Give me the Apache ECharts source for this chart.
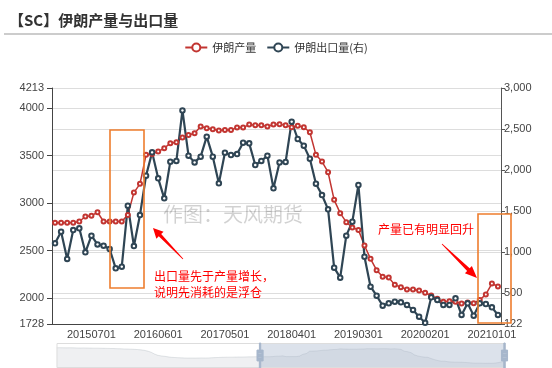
<!DOCTYPE html>
<html><head><meta charset="utf-8">
<script src="https://cdn.jsdelivr.net/npm/echarts@6/dist/echarts.min.js"></script>
<style>html,body{margin:0;padding:0;background:#fff}#c{width:552px;height:368px}</style>
</head><body><div id="c"></div>
<script>
// ---- data ----
const months = [
 '20100101','20100201','20100301','20100401','20100501','20100601','20100701','20100801','20100901','20101001','20101101','20101201',
 '20110101','20110201','20110301','20110401','20110501','20110601','20110701','20110801','20110901','20111001','20111101','20111201',
 '20120101','20120201','20120301','20120401','20120501','20120601','20120701','20120801','20120901','20121001','20121101','20121201',
 '20130101','20130201','20130301','20130401','20130501','20130601','20130701','20130801','20130901','20131001','20131101','20131201',
 '20140101','20140201','20140301','20140401','20140501','20140601','20140701','20140801','20140901','20141001','20141101','20141201',
 '20150101','20150201','20150301','20150401','20150501','20150601','20150701','20150801','20150901','20151001','20151101','20151201',
 '20160101','20160201','20160301','20160401','20160501','20160601','20160701','20160801','20160901','20161001','20161101','20161201',
 '20170101','20170201','20170301','20170401','20170501','20170601','20170701','20170801','20170901','20171001','20171101','20171201',
 '20180101','20180201','20180301','20180401','20180501','20180601','20180701','20180801','20180901','20181001','20181101','20181201',
 '20190101','20190201','20190301','20190401','20190501','20190601','20190701','20190801','20190901','20191001','20191101','20191201',
 '20200101','20200201','20200301','20200401','20200501','20200601','20200701','20200801','20200901','20201001','20201101','20201201',
 '20210101','20210201'
];
// 伊朗产量 (left axis)
const production = [
 3950,3960,3950,3940,3950,3940,3930,3920,3930,3920,3910,3900,
 3900,3890,3880,3870,3860,3850,3830,3820,3800,3790,3770,3750,
 3720,3680,3620,3520,3380,3150,2980,2900,2850,2780,2720,2690,
 2670,2650,2630,2620,2630,2620,2630,2640,2630,2640,2660,2680,
 2700,2720,2730,2740,2740,2750,2760,2760,2770,2780,2780,2790,
 2795,2795,2795,2795,2807,2860,2867,2905,2807,2807,2807,2807,
 2877,3112,3204,3509,3519,3544,3579,3632,3642,3691,3719,3737,
 3807,3789,3779,3765,3772,3772,3796,3796,3828,3822,3822,3807,
 3828,3830,3822,3800,3815,3800,3747,3509,3439,3326,3035,2895,
 2800,2744,2719,2554,2414,2295,2225,2218,2140,2116,2091,2091,
 2081,2056,2028,1993,1961,1968,1961,1944,1954,1947,1982,2039,
 2154,2123
];
// 伊朗出口量 (right axis)
const exportsVol = [
 null,null,null,null,null,null,null,null,null,null,null,null,
 null,null,null,null,null,null,null,null,null,null,null,null,
 null,null,null,null,null,null,null,null,null,null,null,null,
 null,null,null,null,null,null,null,null,null,null,null,null,
 null,null,null,null,null,null,null,null,null,null,null,null,
 1106,1248,915,1268,1289,996,1199,1093,1077,1037,801,821,
 1565,1073,1451,1931,2215,1898,1654,2102,2110,2727,2175,2093,
 2163,2407,2163,1837,2211,2183,2195,2333,2325,2061,2110,2175,
 1776,2093,2098,2589,2378,2297,2138,1833,1695,1520,809,687,
 1199,1370,1817,943,577,467,346,374,394,386,354,293,
 211,136,447,415,354,354,435,232,374,224,374,366,
 325,232
];
const seriesNames = ['伊朗产量','伊朗出口量(右)'];
const leftAxisRange = [1728, 4213];
const rightAxisRange = [122, 3000];
const windowStart = '20150101';
const windowEnd = '20210201';
const labelIdx = [66,77,88,99,110,121,132];
const tickIdx = [61,72,83,94,105,116,127];

// ---- helpers for annotation shapes ----
function arrowPoints(x1,y1,x2,y2,headLen,headHalf,bodyHalf){
  const dx=x2-x1, dy=y2-y1, L=Math.hypot(dx,dy), ux=dx/L, uy=dy/L, nx=-uy, ny=ux;
  const bx=x2-ux*headLen, by=y2-uy*headLen;
  return [[x1+nx*0.4,y1+ny*0.4],[bx+nx*bodyHalf,by+ny*bodyHalf],[bx+nx*headHalf,by+ny*headHalf],[x2,y2],
          [bx-nx*headHalf,by-ny*headHalf],[bx-nx*bodyHalf,by-ny*bodyHalf],[x1-nx*0.4,y1-ny*0.4]];
}
const FONT = '"Liberation Sans", "Noto Sans CJK SC", sans-serif';
const CJK = '"Noto Sans CJK SC", sans-serif';
const RED = '#c23531', DARK = '#2f4554', ANN = '#ff0000', ORANGE = '#ee7d2e';

const chart = echarts.init(document.getElementById('c'));
chart.setOption({
  animation: false,
  backgroundColor: '#fff',
  title: {
    text: '【SC】伊朗产量与出口量', left: 4, top: 8,
    textStyle: { fontSize: 15, fontWeight: 'bold', color: '#333', fontFamily: CJK }
  },
  legend: {
    top: 37, left: 'center', itemWidth: 22, itemHeight: 10, itemGap: 10,
    textStyle: { fontSize: 11, color: '#333', fontFamily: CJK },
    data: seriesNames
  },
  grid: { left: 52, right: 51, top: 88, bottom: 44 },
  xAxis: {
    type: 'category', data: months, boundaryGap: true,
    axisLine: { lineStyle: { color: '#444' } },
    axisTick: { length: 4, interval: (i) => tickIdx.indexOf(i) >= 0, lineStyle: { color: '#444' } },
    axisLabel: { interval: (i) => labelIdx.indexOf(i) >= 0, margin: 5, fontSize: 11, color: '#444', fontFamily: FONT }
  },
  yAxis: [
    { type: 'value', min: leftAxisRange[0], max: leftAxisRange[1], position: 'left',
      axisLine: { show: true, lineStyle: { color: '#444' } },
      axisTick: { show: true, length: 5 },
      axisLabel: { fontSize: 11, color: '#444', fontFamily: FONT, formatter: v => String(v) },
      splitLine: { lineStyle: { color: '#ddd', width: 1.2 } } },
    { type: 'value', min: rightAxisRange[0], max: rightAxisRange[1], position: 'right',
      axisLine: { show: true, lineStyle: { color: '#555' } },
      axisTick: { show: true, length: 4 },
      axisLabel: { fontSize: 11, color: '#444', fontFamily: FONT, margin: 3 },
      splitLine: { lineStyle: { color: '#ddd', width: 1.2 } } }
  ],
  dataZoom: [{
    type: 'slider', xAxisIndex: 0, startValue: windowStart, endValue: windowEnd,
    left: 54, right: 49, top: 343, height: 25,
    backgroundColor: 'rgba(47,69,84,0)', borderColor: '#ddd',
    fillerColor: 'rgba(167,183,204,0.4)',
    dataBackground: { lineStyle: { color: '#2f4554', width: 0.5, opacity: 0.25 }, areaStyle: { color: '#2f4554', opacity: 0.08 } },
    selectedDataBackground: { lineStyle: { color: '#2f4554', width: 0.5, opacity: 0.25 }, areaStyle: { color: '#2f4554', opacity: 0.08 } },
    handleIcon: 'M8.2,13.6V3.9H6.3v9.7H3.1v14.9h3.3v9.7h1.8v-9.7h3.3V13.6H8.2z M9.7,24.4H4.8v-1.4h4.9V24.4z M9.7,19.1H4.8v-1.4h4.9V19.1z',
    handleSize: '100%', handleStyle: { color: '#a7b7cc', borderColor: '#a7b7cc' },
    moveHandleSize: 0, moveHandleStyle: { opacity: 0 },
    showDetail: false, brushSelect: false
  }],
  series: [
    { name: seriesNames[0], type: 'line', yAxisIndex: 0, data: production,
      symbol: 'emptyCircle', symbolSize: 4, showAllSymbol: true,
      itemStyle: { color: RED, borderWidth: 1 }, lineStyle: { color: RED, width: 1.5 } },
    { name: seriesNames[1], type: 'line', yAxisIndex: 1, data: exportsVol,
      symbol: 'emptyCircle', symbolSize: 4.5, showAllSymbol: true,
      itemStyle: { color: DARK, borderWidth: 1 }, lineStyle: { color: DARK, width: 2.2 } }
  ],
  graphic: { elements: [
    { type: 'line', shape: { x1: 4, y1: 34, x2: 552, y2: 34 }, style: { stroke: '#ccc', lineWidth: 2 }, silent: true },
    { type: 'text', x: 163, y: 214, z: 1, silent: true,
      style: { text: '作图：天风期货', fill: 'rgba(0,0,0,0.18)', font: '20px ' + CJK, verticalAlign: 'middle' } },
    { type: 'rect', shape: { x: 110, y: 130, width: 34, height: 158 }, style: { fill: 'none', stroke: ORANGE, lineWidth: 1.6 }, z: 100 },
    { type: 'rect', shape: { x: 478, y: 214, width: 33, height: 109 }, style: { fill: 'none', stroke: ORANGE, lineWidth: 1.6 }, z: 100 },
    { type: 'polygon', shape: { points: arrowPoints(183,259,153,228,10,5,1.7) }, style: { fill: ANN }, z: 100 },
    { type: 'polygon', shape: { points: arrowPoints(442,244,477,278,12,5,1.8) }, style: { fill: ANN }, z: 100 },
    { type: 'text', x: 154, y: 276, z: 100, style: { text: '出口量先于产量增长，', fill: ANN, font: '12px ' + CJK, verticalAlign: 'middle' } },
    { type: 'text', x: 154, y: 292, z: 100, style: { text: '说明先消耗的是浮仓', fill: ANN, font: '12px ' + CJK, verticalAlign: 'middle' } },
    { type: 'text', x: 378, y: 229, z: 100, style: { text: '产量已有明显回升', fill: ANN, font: '12px ' + CJK, verticalAlign: 'middle' } }
  ]}
});
</script>
</body></html>
